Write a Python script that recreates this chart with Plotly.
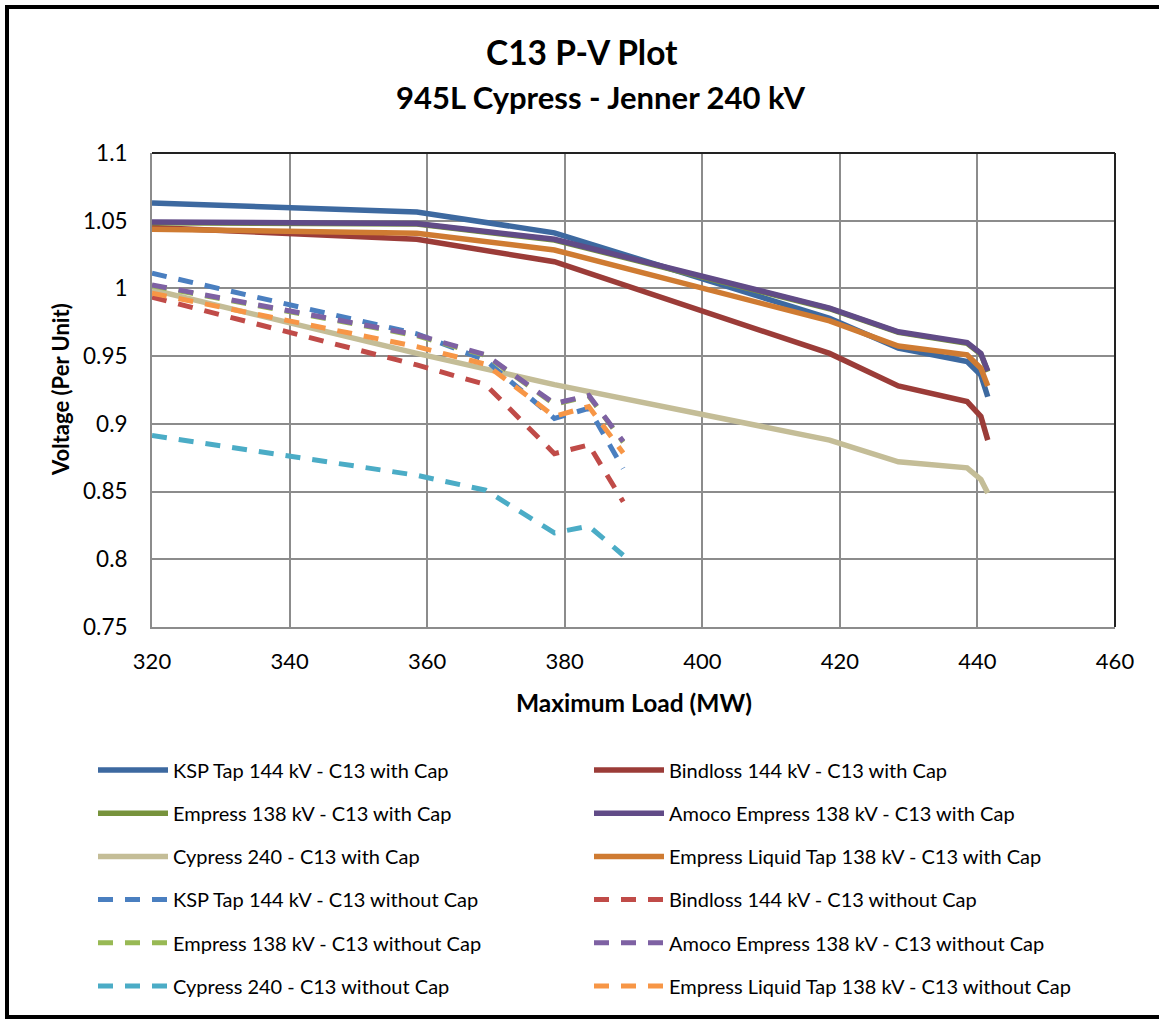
import plotly.graph_objects as go

# ---------------- data ----------------
x_cap = [320, 358.5, 378.5, 418.5, 428.5, 438.5, 440.5, 441.5]
ksp_cap = [1.063, 1.0565, 1.041, 0.978, 0.956, 0.946, 0.936, 0.920]
bindloss_cap = [1.045, 1.0363, 1.0197, 0.952, 0.928, 0.9165, 0.9055, 0.888]
empress_cap = [1.0485, 1.0475, 1.0357, 0.985, 0.9675, 0.9595, 0.9515, 0.9385]
amoco_cap = [1.049, 1.048, 1.0363, 0.9855, 0.968, 0.960, 0.952, 0.939]
cypress_cap = [0.999, 0.952, 0.929, 0.888, 0.872, 0.8675, 0.859, 0.849]
liquid_cap = [1.0437, 1.0407, 1.0284, 0.976, 0.9575, 0.951, 0.941, 0.928]

x_nocap = [320, 358.5, 368.5, 378.5, 383.5, 388.5]
ksp_nocap = [1.0112, 0.9665, 0.947, 0.904, 0.9115, 0.867]
bindloss_nocap = [0.9935, 0.9435, 0.929, 0.878, 0.8845, 0.8425]
empress_nocap = [1.002, 0.965, 0.9505, 0.9145, 0.9205, 0.8865]
amoco_nocap = [1.0026, 0.9657, 0.951, 0.915, 0.921, 0.887]
cypress_nocap = [0.8914, 0.862, 0.851, 0.8195, 0.8245, 0.803]
liquid_nocap = [0.9965, 0.957, 0.944, 0.9055, 0.9128, 0.8785]

x_ticks = [320, 340, 360, 380, 400, 420, 440, 460]
y_ticks = [0.75, 0.8, 0.85, 0.9, 0.95, 1.0, 1.05, 1.1]
y_tick_text = ["0.75", "0.8", "0.85", "0.9", "0.95", "1", "1.05", "1.1"]

series = [
    ("KSP Tap 144 kV - C13 with Cap", x_cap, ksp_cap, "#3D69A0", "solid", "legend"),
    ("Bindloss 144 kV - C13 with Cap", x_cap, bindloss_cap, "#9B3C38", "solid", "legend2"),
    ("Empress 138 kV - C13 with Cap", x_cap, empress_cap, "#77933C", "solid", "legend"),
    ("Amoco Empress 138 kV - C13 with Cap", x_cap, amoco_cap, "#614B87", "solid", "legend2"),
    ("Cypress 240 - C13 with Cap", x_cap, cypress_cap, "#C4BD97", "solid", "legend"),
    ("Empress Liquid Tap 138 kV - C13 with Cap", x_cap, liquid_cap, "#CF7B32", "solid", "legend2"),
    ("KSP Tap 144 kV - C13 without Cap", x_nocap, ksp_nocap, "#4A7FC0", "dash", "legend"),
    ("Bindloss 144 kV - C13 without Cap", x_nocap, bindloss_nocap, "#C04B48", "dash", "legend2"),
    ("Empress 138 kV - C13 without Cap", x_nocap, empress_nocap, "#98B954", "dash", "legend"),
    ("Amoco Empress 138 kV - C13 without Cap", x_nocap, amoco_nocap, "#7E61A3", "dash", "legend2"),
    ("Cypress 240 - C13 without Cap", x_nocap, cypress_nocap, "#4BACC6", "dash", "legend"),
    ("Empress Liquid Tap 138 kV - C13 without Cap", x_nocap, liquid_nocap, "#F79646", "dash", "legend2"),
]

FONT = "Lato, 'Liberation Sans', sans-serif"

fig = go.Figure()
for i, (name, xs, ys, color, dash, leg) in enumerate(series):
    fig.add_trace(go.Scatter(
        x=xs, y=ys, mode="lines", name=name,
        line=dict(color=color, width=5.5 if dash == "solid" else 5,
                  dash="solid" if dash == "solid" else "15px,12px"),
        legend=leg, legendgroup=f"g{i}",
    ))

L, R, T, B = 152, 44, 153, 394
W, H = 1159, 1021
PW, PH = W - L - R, H - T - B


def px2x(px):
    return (px - L) / PW


def py2y(py):
    return (H - B - py) / PH


grid_color = "#8C8C8C"

fig.update_layout(
    width=W, height=H,
    margin=dict(l=L, r=R, t=T, b=B),
    paper_bgcolor="white", plot_bgcolor="white",
    font=dict(family=FONT, color="black"),
    xaxis=dict(range=[320, 460], tickvals=x_ticks, showgrid=True,
               gridcolor=grid_color, gridwidth=2, showline=True,
               linecolor=grid_color, linewidth=2, zeroline=False,
               tickfont=dict(size=22, family=FONT), ticks="",
               ticklabelstandoff=14),
    yaxis=dict(range=[0.75, 1.1], tickvals=y_ticks, ticktext=y_tick_text,
               showgrid=True, gridcolor=grid_color, gridwidth=2,
               showline=True, linecolor=grid_color, linewidth=2,
               zeroline=False, tickfont=dict(size=22.5, family=FONT), ticks="",
               ticklabelstandoff=18),
    legend=dict(x=px2x(93), y=py2y(750.5), xanchor="left", yanchor="top",
                orientation="v", font=dict(size=20, family=FONT),
                tracegroupgap=14.2, itemwidth=70, bgcolor="rgba(0,0,0,0)"),
    legend2=dict(x=px2x(589), y=py2y(750.5), xanchor="left", yanchor="top",
                 orientation="v", font=dict(size=20, family=FONT),
                 tracegroupgap=14.2, itemwidth=70, bgcolor="rgba(0,0,0,0)"),
    showlegend=True,
)

annotations = [
    dict(text="<b>C13 P-V Plot</b>", x=px2x(582), y=py2y(52), size=33.5),
    dict(text="<b>945L Cypress - Jenner 240 kV</b>", x=px2x(601), y=py2y(97), size=31),
    dict(text="<b>Maximum Load (MW)</b>", x=px2x(634), y=py2y(702), size=24.5),
    dict(text="<b>Voltage (Per Unit)</b>", x=px2x(60), y=py2y(390), size=22, textangle=-90),
]
for a in annotations:
    size = a.pop("size")
    fig.add_annotation(xref="paper", yref="paper", showarrow=False,
                       xanchor="center", yanchor="middle",
                       font=dict(family=FONT, color="black", size=size), **a)

# outer chart border (left, top, bottom visible)
fig.add_shape(type="rect", xref="paper", yref="paper",
              x0=px2x(7), x1=px2x(1175), y0=py2y(1017), y1=py2y(7),
              line=dict(color="black", width=4), fillcolor="rgba(0,0,0,0)")
# dark top/right edges of plot area
fig.add_shape(type="line", xref="paper", yref="paper", x0=0, x1=1, y0=1, y1=1,
              line=dict(color="#222222", width=2))
fig.add_shape(type="line", xref="paper", yref="paper", x0=1, x1=1, y0=0, y1=1,
              line=dict(color="#222222", width=2))

fig.write_html("out.html", config={"displayModeBar": False},
               post_script="document.body.style.margin='0';document.body.style.overflow='hidden';")
